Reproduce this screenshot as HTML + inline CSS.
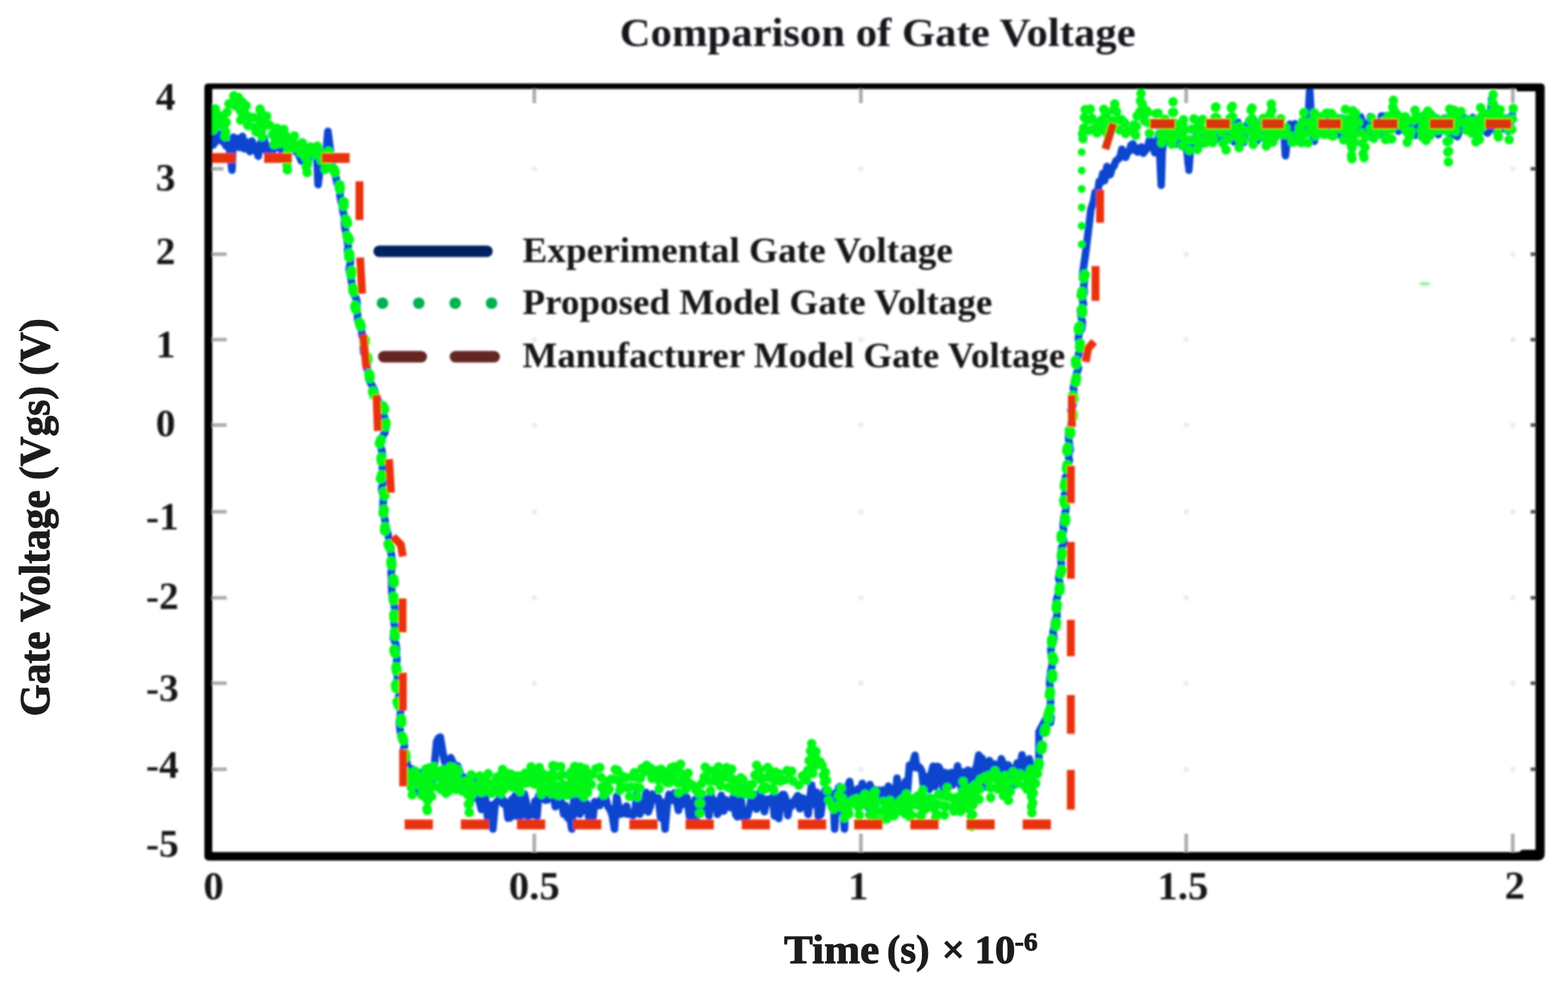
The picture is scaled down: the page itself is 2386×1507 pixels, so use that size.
<!DOCTYPE html>
<html lang="en"><head><meta charset="utf-8"><title>Comparison of Gate Voltage</title>
<style>html,body{margin:0;padding:0;background:#fff}svg{display:block}</style></head>
<body>
<svg width="2386" height="1507" viewBox="0 0 2386 1507">
<rect width="2386" height="1507" fill="#fff"/>
<defs><clipPath id="pc"><rect x="322" y="135" width="2016" height="1162"/></clipPath></defs>
<defs><filter id="bl" x="-2%" y="-2%" width="104%" height="104%"><feGaussianBlur stdDeviation="1.4"/></filter><filter id="bp" x="-2%" y="-2%" width="104%" height="104%"><feGaussianBlur stdDeviation="1.7"/></filter></defs>
<g id="plot" filter="url(#bp)">
<g stroke="#acacac" stroke-width="5.5" fill="none">
<line x1="813" y1="135" x2="813" y2="157"/>
<line x1="813" y1="1269" x2="813" y2="1297"/>
<line x1="1310" y1="135" x2="1310" y2="157"/>
<line x1="1310" y1="1269" x2="1310" y2="1297"/>
<line x1="1805" y1="135" x2="1805" y2="157"/>
<line x1="1805" y1="1269" x2="1805" y2="1297"/>
<line x1="2302" y1="1269" x2="2302" y2="1297"/>
<line x1="2302" y1="135" x2="2302" y2="157"/>
<line x1="2329" y1="257" x2="2339" y2="257" stroke="#555"/>
<line x1="323" y1="387" x2="345" y2="387"/>
<line x1="2329" y1="387" x2="2339" y2="387" stroke="#555"/>
<line x1="323" y1="517" x2="345" y2="517"/>
<line x1="2329" y1="517" x2="2339" y2="517" stroke="#555"/>
<line x1="323" y1="647" x2="345" y2="647"/>
<line x1="2329" y1="647" x2="2339" y2="647" stroke="#555"/>
<line x1="323" y1="779" x2="345" y2="779"/>
<line x1="2329" y1="779" x2="2339" y2="779" stroke="#555"/>
<line x1="323" y1="910" x2="345" y2="910"/>
<line x1="2329" y1="910" x2="2339" y2="910" stroke="#555"/>
<line x1="323" y1="1040" x2="345" y2="1040"/>
<line x1="2329" y1="1040" x2="2339" y2="1040" stroke="#555"/>
<line x1="323" y1="1171" x2="345" y2="1171"/>
<line x1="2329" y1="1171" x2="2339" y2="1171" stroke="#555"/>
<line x1="323" y1="257" x2="340" y2="257"/>
</g>
<g fill="#ececec">
<circle cx="813" cy="257" r="4"/>
<circle cx="813" cy="387" r="4"/>
<circle cx="813" cy="517" r="4"/>
<circle cx="813" cy="647" r="4"/>
<circle cx="813" cy="779" r="4"/>
<circle cx="813" cy="910" r="4"/>
<circle cx="813" cy="1040" r="4"/>
<circle cx="813" cy="1171" r="4"/>
<circle cx="1310" cy="257" r="4"/>
<circle cx="1310" cy="387" r="4"/>
<circle cx="1310" cy="517" r="4"/>
<circle cx="1310" cy="647" r="4"/>
<circle cx="1310" cy="779" r="4"/>
<circle cx="1310" cy="910" r="4"/>
<circle cx="1310" cy="1040" r="4"/>
<circle cx="1310" cy="1171" r="4"/>
<circle cx="1805" cy="257" r="4"/>
<circle cx="1805" cy="387" r="4"/>
<circle cx="1805" cy="517" r="4"/>
<circle cx="1805" cy="647" r="4"/>
<circle cx="1805" cy="779" r="4"/>
<circle cx="1805" cy="910" r="4"/>
<circle cx="1805" cy="1040" r="4"/>
<circle cx="1805" cy="1171" r="4"/>
<circle cx="2302" cy="257" r="4"/>
<circle cx="2302" cy="387" r="4"/>
<circle cx="2302" cy="517" r="4"/>
<circle cx="2302" cy="647" r="4"/>
<circle cx="2302" cy="779" r="4"/>
<circle cx="2302" cy="910" r="4"/>
<circle cx="2302" cy="1040" r="4"/>
<circle cx="2302" cy="1171" r="4"/>
</g>
<ellipse cx="2168" cy="432" rx="9" ry="3" fill="#9af59a"/>
<g clip-path="url(#pc)">
<polyline points="322.0,210.7 324.4,220.8 326.6,217.5 329.4,203.5 332.4,203.2 335.3,204.5 337.5,215.3 341.1,206.7 343.6,222.0 347.4,220.9 350.2,233.2 353.0,259.0 355.0,208.7 357.3,213.9 360.9,210.4 364.1,224.5 366.8,222.0 369.0,207.6 371.5,226.5 374.4,215.8 377.5,220.3 380.2,230.8 383.5,214.6 386.7,223.4 390.3,229.9 393.0,237.7 395.3,221.1 398.7,213.4 401.7,209.5 405.0,229.9 408.2,232.0 410.8,225.5 414.0,220.8 416.9,227.4 420.7,215.8 424.0,206.0 427.4,226.3 431.3,234.7 433.9,223.7 437.2,215.4 440.1,222.1 442.4,219.3 445.9,222.1 448.4,230.4 452.1,221.8 455.0,236.5 458.7,245.3 462.4,229.8 465.2,232.8 468.9,251.5 471.3,228.5 473.8,230.8 476.0,230.0 479.3,225.0 482.2,236.5 484.0,281.0 488.7,242.2 491.9,246.9 494.1,253.2 499.0,200.0 506.0,254.0 508.5,262.5 511.5,271.0 513.0,279.5 518.7,288.0 517.2,296.4 518.6,304.8 520.7,313.2 521.9,321.6 524.2,330.0 524.0,338.8 525.0,347.5 527.0,356.2 528.0,365.0 529.9,374.0 528.8,383.0 533.7,392.0 533.0,401.0 531.2,410.0 533.0,418.5 534.7,427.0 536.1,435.5 536.1,444.0 541.2,452.5 543.5,461.0 542.3,469.5 543.9,478.0 544.3,486.3 546.7,494.7 550.2,503.0 551.0,511.4 555.0,519.8 552.9,528.2 553.4,536.6 559.3,545.0 558.7,553.0 558.4,561.0 562.0,569.0 561.0,577.0 565.1,585.0 569.9,594.0 571.8,603.0 576.0,610.3 578.8,617.7 584.3,625.0 584.0,633.3 587.7,641.7 587.2,650.0 585.7,658.3 580.8,666.7 577.6,675.0 580.9,685.0 582.1,695.0 581.8,705.0 582.0,715.0 582.6,725.0 582.7,735.0 580.6,745.0 583.1,754.2 583.3,763.5 582.6,772.8 583.6,782.0 585.9,792.0 586.8,802.0 590.0,812.0 592.3,822.0 591.1,831.3 594.9,840.7 596.4,850.0 597.3,860.0 595.3,870.0 595.6,880.0 596.0,889.1 596.2,898.2 596.5,907.3 599.0,916.4 600.7,925.6 600.7,934.7 599.2,943.8 600.4,952.9 601.5,962.0 598.4,970.5 601.8,979.0 603.5,987.5 603.4,996.0 603.8,1004.5 602.9,1013.0 601.9,1021.5 605.4,1030.0 603.7,1038.6 606.6,1047.1 608.1,1055.7 605.8,1064.3 606.4,1072.9 609.7,1081.4 609.1,1090.0 607.5,1099.2 608.5,1108.3 609.8,1117.5 614.7,1126.7 615.4,1135.8 613.2,1145.0 617.9,1155.0 619.9,1165.0 619.5,1175.0 619.3,1185.0 624.0,1191.9 626.3,1170.2 630.2,1195.0 633.2,1205.9 636.1,1202.9 639.7,1175.9 642.3,1178.8 644.8,1190.1 647.4,1183.0 649.7,1202.3 652.4,1183.7 655.6,1198.9 658.4,1188.4 661.4,1161.2 664.5,1128.8 667.4,1123.3 670.0,1122.0 671.9,1133.4 675.3,1153.7 678.0,1165.6 681.1,1175.3 683.4,1165.5 685.9,1153.2 689.4,1161.2 692.5,1171.4 696.3,1165.7 699.5,1174.2 702.5,1185.8 705.4,1183.1 708.4,1203.1 711.7,1204.7 715.5,1184.8 718.6,1216.0 722.2,1188.4 724.6,1203.6 726.8,1198.4 729.0,1218.5 732.5,1232.2 734.9,1228.0 738.2,1209.4 741.9,1244.7 744.4,1244.1 747.2,1225.5 750.0,1262.0 753.5,1223.3 756.5,1219.6 758.9,1218.7 762.3,1206.8 765.4,1223.6 767.6,1219.3 770.8,1226.5 773.0,1245.4 776.5,1244.9 778.8,1216.6 781.0,1237.2 783.6,1211.2 786.4,1242.5 790.0,1216.3 792.4,1242.8 795.5,1234.0 797.8,1208.3 801.1,1223.0 803.3,1243.5 806.6,1238.1 808.8,1240.2 811.1,1240.5 814.0,1219.6 817.1,1243.1 819.6,1211.2 822.7,1215.5 825.0,1212.5 827.2,1214.1 829.8,1218.2 833.3,1217.6 836.3,1213.1 839.0,1206.7 841.6,1206.6 845.0,1228.0 847.4,1225.0 851.2,1210.3 854.8,1223.3 857.8,1239.4 860.6,1226.3 863.9,1245.3 866.7,1239.3 870.0,1262.0 872.9,1219.9 875.1,1211.2 877.3,1235.6 879.8,1212.5 882.1,1239.7 885.8,1232.8 888.4,1215.7 891.0,1224.4 893.4,1223.8 896.0,1244.5 899.8,1227.9 902.3,1244.6 905.0,1220.3 907.1,1221.3 910.1,1226.1 912.5,1226.2 914.6,1216.6 916.9,1222.0 919.1,1206.9 921.7,1215.3 924.9,1227.2 928.3,1232.3 931.7,1241.2 935.0,1262.0 938.4,1212.0 941.8,1231.7 944.0,1239.4 947.7,1231.1 951.1,1238.5 953.4,1227.0 956.4,1239.4 960.0,1239.1 963.1,1241.7 966.5,1233.7 969.0,1207.2 971.3,1220.4 973.6,1239.4 976.7,1231.1 980.0,1233.2 982.9,1206.1 986.5,1235.9 989.5,1227.4 992.8,1208.6 996.2,1216.1 998.4,1216.6 1001.8,1214.2 1005.3,1245.0 1008.3,1221.3 1012.0,1262.0 1014.7,1230.7 1018.0,1209.1 1020.3,1216.2 1023.8,1218.2 1026.9,1206.5 1029.1,1216.8 1032.4,1233.7 1035.7,1217.6 1038.7,1224.6 1041.7,1210.7 1045.4,1214.0 1049.3,1243.5 1051.4,1224.4 1055.0,1244.7 1057.9,1216.7 1060.3,1243.8 1062.8,1229.3 1065.2,1227.0 1069.0,1211.3 1072.6,1226.3 1076.3,1234.1 1078.8,1241.9 1081.8,1207.0 1083.9,1225.7 1086.8,1218.1 1089.1,1219.8 1091.8,1239.6 1093.9,1236.0 1097.5,1210.8 1101.3,1234.5 1105.0,1217.6 1107.8,1221.7 1111.7,1229.6 1114.4,1223.1 1117.0,1207.9 1119.3,1239.4 1121.9,1243.4 1124.5,1216.6 1127.5,1213.6 1130.3,1244.2 1133.9,1238.5 1137.2,1242.5 1141.0,1228.0 1144.4,1208.0 1147.8,1224.0 1151.2,1231.8 1153.9,1208.0 1157.6,1211.1 1160.6,1219.7 1163.2,1235.6 1167.1,1216.4 1170.4,1218.0 1173.5,1221.8 1175.9,1212.5 1178.3,1242.2 1181.3,1214.8 1185.1,1245.9 1188.0,1211.6 1190.4,1209.6 1193.1,1209.6 1195.7,1216.3 1198.8,1241.5 1202.2,1222.5 1205.1,1227.0 1207.9,1219.5 1210.1,1217.1 1213.9,1211.0 1216.9,1231.2 1220.6,1214.6 1223.2,1215.9 1226.0,1223.8 1229.8,1239.9 1233.5,1206.9 1235.0,1195.0 1239.3,1224.9 1242.5,1206.0 1245.3,1243.1 1248.9,1240.2 1252.7,1211.2 1255.0,1203.4 1258.1,1219.2 1261.9,1214.1 1265.1,1216.0 1268.1,1207.9 1270.0,1262.0 1272.7,1223.2 1276.0,1199.0 1278.3,1197.2 1281.6,1215.5 1285.0,1262.0 1286.9,1211.6 1289.7,1197.6 1292.9,1189.5 1295.5,1207.8 1299.4,1215.7 1303.1,1209.4 1305.6,1200.6 1309.4,1219.4 1312.1,1192.4 1315.1,1218.9 1317.9,1202.5 1321.2,1229.7 1323.7,1194.3 1326.4,1210.1 1329.8,1201.6 1333.3,1223.7 1336.3,1202.7 1340.2,1207.4 1343.7,1202.4 1346.2,1222.3 1348.9,1228.6 1351.9,1196.6 1354.4,1204.5 1357.7,1224.1 1360.0,1200.7 1362.5,1222.7 1364.9,1184.6 1367.1,1197.2 1370.8,1215.0 1374.2,1217.8 1378.0,1189.2 1380.4,1211.2 1383.9,1164.7 1387.2,1168.7 1389.9,1158.5 1392.3,1149.8 1394.9,1168.9 1398.8,1167.5 1402.6,1173.3 1405.3,1197.9 1408.9,1182.3 1411.1,1183.9 1413.9,1201.8 1416.3,1179.6 1420.0,1166.2 1422.9,1197.5 1426.4,1166.6 1428.5,1167.5 1432.3,1175.3 1435.7,1200.9 1438.4,1175.9 1442.3,1189.7 1444.8,1193.7 1447.5,1176.0 1449.6,1195.2 1453.3,1190.4 1457.1,1166.0 1459.7,1184.0 1463.5,1203.2 1466.3,1175.0 1469.2,1184.7 1472.9,1172.3 1476.5,1194.5 1480.1,1195.8 1483.2,1171.6 1485.9,1167.6 1489.4,1149.3 1491.9,1177.9 1494.4,1154.2 1496.6,1177.0 1499.3,1198.1 1503.0,1196.5 1505.5,1157.8 1507.8,1172.1 1511.2,1166.7 1513.7,1163.0 1516.9,1173.1 1520.4,1182.1 1523.7,1155.1 1527.3,1164.1 1530.4,1169.2 1533.8,1164.3 1536.4,1167.6 1538.8,1194.6 1541.9,1171.1 1544.7,1195.0 1547.7,1161.5 1551.3,1174.8 1555.2,1149.1 1558.1,1178.4 1561.7,1183.0 1563.9,1158.7 1566.2,1155.0 1570.1,1171.6 1573.8,1164.0 1577.5,1167.9 1581.0,1155.0 1581.0,1114.0 1595.0,1088.0 1598.4,1100.0 1599.5,1091.4 1595.6,1082.9 1598.3,1074.3 1598.7,1065.7 1597.0,1057.1 1598.1,1048.6 1597.2,1040.0 1597.9,1031.4 1598.6,1022.9 1600.8,1014.3 1601.5,1005.7 1599.7,997.1 1599.1,988.6 1601.1,980.0 1603.9,971.7 1602.4,963.3 1604.1,955.0 1604.5,946.7 1608.5,938.3 1608.2,930.0 1606.6,921.7 1607.7,913.3 1610.0,905.0 1611.6,896.7 1612.9,888.3 1611.0,880.0 1612.0,870.8 1615.3,861.7 1614.5,852.5 1614.6,843.3 1615.4,834.2 1619.3,825.0 1616.6,815.8 1618.3,806.7 1617.8,797.5 1618.6,788.3 1621.3,779.2 1622.5,770.0 1620.0,761.4 1619.9,752.9 1623.3,744.3 1621.4,735.7 1621.1,727.1 1626.3,718.6 1624.6,710.0 1627.2,701.4 1625.7,692.9 1628.6,684.3 1627.1,675.7 1626.2,667.1 1626.0,658.6 1629.3,650.0 1630.5,641.7 1632.7,633.3 1629.4,625.0 1632.9,616.7 1632.5,608.3 1634.0,600.0 1633.5,590.0 1635.4,580.0 1637.9,570.0 1641.1,560.0 1637.8,551.4 1640.4,542.9 1642.7,534.3 1644.2,525.7 1641.1,517.1 1641.4,508.6 1646.2,500.0 1647.0,490.8 1645.2,481.7 1643.8,472.5 1648.8,463.3 1646.8,454.2 1650.0,445.0 1648.9,436.0 1650.3,427.0 1647.3,418.0 1652.0,385.0 1656.0,352.0 1660.0,319.0 1664.0,306.9 1666.5,292.7 1670.1,295.7 1672.6,276.1 1675.4,277.7 1678.2,264.0 1680.7,275.0 1684.4,253.5 1687.5,266.4 1689.7,265.4 1692.0,256.5 1695.1,252.9 1697.8,245.5 1700.9,242.6 1704.2,240.0 1707.1,227.2 1710.3,235.3 1712.8,239.5 1716.3,230.7 1718.7,230.1 1721.0,220.9 1723.9,218.9 1726.8,227.8 1729.0,230.0 1731.2,231.4 1734.7,224.7 1736.9,223.7 1739.7,233.3 1742.1,230.1 1745.9,225.6 1749.5,212.1 1753.4,218.6 1757.2,232.4 1759.6,227.7 1763.4,202.6 1767.0,282.0 1768.5,230.1 1771.0,215.0 1773.4,215.9 1777.2,205.4 1779.8,215.1 1782.4,198.7 1784.9,202.6 1788.7,219.6 1792.4,201.7 1795.9,199.4 1798.9,216.6 1801.7,224.2 1804.8,213.8 1809.0,259.0 1812.4,214.4 1815.2,219.8 1817.7,226.1 1820.9,204.4 1824.4,206.8 1826.8,216.8 1829.0,219.2 1831.5,212.8 1835.4,210.6 1838.7,201.0 1840.8,191.3 1843.2,210.8 1846.0,207.0 1849.8,193.7 1852.3,211.2 1854.4,188.8 1857.1,192.1 1859.9,195.8 1863.0,207.9 1865.5,208.9 1868.5,191.9 1872.2,195.3 1874.6,190.0 1877.9,216.0 1881.4,199.7 1883.9,186.2 1887.2,204.6 1889.9,207.2 1892.8,216.8 1896.3,193.0 1900.0,185.7 1903.0,197.7 1905.6,185.6 1909.1,183.7 1912.2,215.0 1914.5,189.6 1917.7,199.9 1921.0,210.1 1923.4,192.9 1926.0,183.9 1929.7,208.6 1933.1,182.0 1936.7,206.9 1939.7,206.6 1942.6,188.9 1944.9,189.0 1947.0,192.4 1950.5,204.4 1954.1,204.8 1956.0,237.0 1959.6,207.1 1962.6,189.1 1965.9,212.8 1968.4,209.7 1970.5,188.5 1973.0,204.8 1976.8,204.7 1979.5,209.1 1982.2,187.1 1985.9,200.2 1989.3,201.2 1993.0,138.0 1996.8,201.9 2000.0,215.0 2003.8,197.3 2006.5,185.1 2009.7,180.5 2013.4,182.7 2015.6,181.4 2019.3,189.4 2021.7,178.6 2023.9,201.2 2027.1,201.3 2030.5,179.7 2033.7,189.8 2037.3,205.3 2041.0,179.6 2044.6,208.4 2048.4,180.8 2050.9,181.0 2053.1,205.9 2056.6,198.6 2060.2,198.5 2062.8,180.4 2065.1,202.7 2067.6,187.7 2070.4,177.5 2073.0,186.4 2076.4,189.3 2079.1,209.5 2082.1,205.6 2085.3,177.6 2088.1,191.4 2091.6,188.3 2095.0,194.7 2097.5,205.7 2099.7,204.2 2102.1,176.4 2104.6,202.2 2108.5,176.4 2111.5,192.9 2115.0,182.4 2118.0,187.9 2121.6,184.9 2125.4,185.6 2127.9,199.7 2130.9,179.6 2134.1,178.5 2137.6,199.4 2141.1,197.0 2143.9,189.3 2146.7,205.9 2148.9,205.7 2151.1,182.5 2153.7,206.1 2156.7,188.3 2160.4,183.3 2163.3,193.4 2166.7,200.9 2170.0,187.0 2172.7,180.4 2176.3,197.6 2179.7,180.8 2182.6,201.3 2185.8,179.2 2188.7,205.0 2191.2,181.4 2193.9,198.7 2197.5,180.0 2199.9,183.1 2202.6,192.4 2205.0,185.8 2207.4,207.7 2210.8,178.0 2214.6,177.9 2217.4,207.9 2221.0,199.3 2223.9,181.0 2227.1,177.9 2229.6,187.4 2231.7,187.7 2235.3,197.7 2238.3,195.6 2241.2,178.8 2244.4,187.7 2247.8,204.8 2250.7,193.4 2254.1,188.1 2256.6,198.3 2260.3,200.0 2263.7,202.6 2267.0,195.4 2270.0,150.0 2273.2,176.8 2276.0,200.0 2279.4,194.8 2281.9,187.7 2284.9,194.4 2287.7,196.2 2291.5,179.4 2294.8,199.6 2297.6,189.7 2301.4,174.3" fill="none" stroke="#0a45cf" stroke-width="11.5" stroke-linejoin="round" stroke-linecap="round"/>
<g fill="none" stroke="#05f713" stroke-linejoin="round">
<polyline points="322.0,167.7 325.0,204.4 327.7,163.4 330.0,165.0 333.3,181.6 336.1,196.1 338.8,175.3 343.0,212.0 345.0,172.8 348.0,157.1 351.3,165.1 353.2,159.4 355.7,144.5 358.2,161.7 361.1,155.7 364.0,143.0 366.3,184.2 368.9,153.1 372.0,165.6 374.1,155.9 377.2,192.6 380.0,180.1 382.7,172.1 386.0,180.9 388.8,204.7 391.9,189.4 394.2,194.4 396.0,160.0 398.6,211.1 400.8,189.5 403.0,193.0 405.1,173.7 408.1,188.5 410.3,190.6 412.9,198.0 415.7,210.5 418.1,224.6 421.2,189.7 424.3,221.8 427.4,195.7 430.5,215.0 432.3,193.6 435.6,218.4 437.0,262.0 439.9,205.2 442.9,210.6 445.0,231.7 448.0,206.6 451.2,223.9 454.3,227.5 457.5,233.3 460.6,213.5 463.5,226.9 467.0,266.0 469.7,231.0 471.9,220.7 474.0,231.1 475.9,231.2 477.9,233.2 480.5,236.3 483.7,218.8 486.8,237.1 489.5,245.7 492.6,237.6 495.1,260.7 497.1,250.6 499.9,230.9" stroke-width="14.5" stroke-dasharray="0.1 15" stroke-linecap="round"/>
<polyline points="499.9,230.9 506.0,254.0 511.1,265.3 516.6,276.7 517.0,288.0 523.2,302.0 522.7,316.0 524.9,330.0 529.1,341.7 525.5,353.3 531.3,365.0 531.8,380.0 531.0,395.0 535.2,410.0 533.9,421.3 536.2,432.7 538.2,444.0 541.6,455.3 540.3,466.7 543.6,478.0 547.0,490.5 551.3,503.0 555.0,517.0 553.8,531.0 559.0,545.0 559.1,558.3 562.4,571.7 563.6,585.0 570.0,603.0 580.3,614.0 585.9,625.0 587.8,637.5 586.0,650.0 581.9,662.5 577.8,675.0 580.0,690.0 580.8,705.0 582.4,718.3 578.6,731.7 583.3,745.0 585.6,757.3 584.9,769.7 583.3,782.0 586.1,795.3 585.7,808.7 588.1,822.0 594.5,836.0 594.7,850.0 596.4,865.0 598.7,880.0 600.0,893.7 598.7,907.3 599.2,921.0 599.8,934.7 600.7,948.3 600.6,962.0 601.9,975.6 599.9,989.2 603.4,1002.8 602.9,1016.4 605.6,1030.0 602.4,1042.0 603.7,1054.0 603.6,1066.0 608.8,1078.0 610.5,1090.0 610.7,1103.8 610.7,1117.5 615.2,1131.2 616.7,1145.0 617.0,1158.3 616.9,1171.7 618.8,1185.0" stroke-width="15.5" stroke-dasharray="6 21" stroke-linecap="round"/>
<polyline points="622.0,1184.9 624.3,1185.4 627.1,1211.5 629.0,1192.5 630.9,1169.2 634.0,1192.9 637.3,1186.2 639.1,1183.1 641.8,1211.7 645.2,1187.6 647.7,1168.2 650.0,1240.0 652.5,1163.7 654.4,1198.4 656.4,1213.1 658.3,1208.1 660.4,1163.8 663.3,1175.5 666.3,1172.6 668.2,1203.1 671.1,1207.3 674.1,1167.2 676.9,1199.7 679.4,1211.3 681.6,1212.9 684.5,1163.4 686.4,1196.6 689.5,1166.9 691.8,1200.7 693.9,1207.5 696.5,1165.9 698.8,1192.6 701.3,1197.9 703.4,1204.2 705.8,1196.3 708.6,1184.4 711.0,1203.6 714.0,1238.0 717.0,1177.9 718.9,1213.3 721.8,1205.7 724.2,1194.2 727.5,1205.9 730.3,1178.7 732.8,1208.8 735.2,1198.2 737.9,1209.2 741.0,1177.3 742.8,1176.3 745.3,1193.1 748.4,1208.7 750.3,1205.9 753.4,1207.7 756.1,1176.8 759.2,1204.5 762.1,1210.1 764.5,1167.0 767.2,1204.0 769.3,1201.5 772.6,1174.7 775.3,1197.7 777.9,1173.2 780.1,1201.5 783.2,1186.4 785.1,1204.4 788.1,1174.6 790.9,1209.1 794.1,1189.6 796.6,1193.1 798.7,1172.4 800.8,1198.9 803.2,1191.8 805.7,1189.3 807.7,1164.7 811.1,1181.8 813.1,1195.3 816.1,1170.5 818.9,1180.3 821.5,1163.4 823.4,1213.8 826.6,1187.6 829.3,1175.9 832.3,1184.5 835.6,1202.2 838.7,1212.4 840.9,1164.2 843.1,1171.7 845.0,1164.9 847.7,1207.5 850.2,1211.5 853.5,1165.6 856.2,1182.9 858.2,1212.1 860.4,1191.6 863.3,1211.9 866.1,1182.6 868.7,1170.5 872.0,1213.7 874.1,1164.2 876.4,1180.5 879.6,1209.2 882.7,1164.6 885.8,1199.0 888.6,1213.4 890.5,1169.6 893.5,1211.0 896.4,1177.6 899.1,1201.5 901.1,1178.9 903.3,1168.5 905.9,1170.8 908.1,1169.5 911.0,1162.7 913.9,1172.2 915.8,1210.3 917.9,1210.6 921.1,1208.2 923.2,1185.3 925.1,1210.3 928.3,1194.7 930.8,1179.6 933.9,1186.8 936.7,1169.4 938.9,1164.9 941.8,1190.7 943.8,1207.2 946.1,1183.3 948.1,1176.0 951.3,1179.3 953.3,1187.4 955.7,1208.9 957.7,1212.8 959.6,1208.4 962.4,1172.9 965.0,1176.8 967.2,1172.3 969.6,1213.4 973.0,1209.9 975.0,1176.9 978.2,1164.8 981.1,1177.1 984.5,1162.6 987.5,1179.5 989.6,1161.9 992.7,1189.2 994.8,1184.4 998.1,1173.1 1000.8,1168.9 1002.9,1201.8 1005.8,1172.0 1007.7,1166.3 1010.5,1187.5 1012.8,1172.4 1015.5,1198.5 1018.6,1192.0 1020.8,1165.1 1023.7,1182.9 1026.7,1164.5 1029.8,1179.1 1032.9,1206.6 1035.5,1162.4 1038.7,1186.4 1041.9,1175.5 1044.0,1204.9 1046.4,1170.1 1048.8,1192.5 1050.6,1188.6 1053.1,1188.4 1055.1,1198.7 1058.2,1206.6 1060.6,1198.5 1063.0,1200.6 1065.0,1238.0 1068.2,1187.3 1070.8,1189.1 1073.5,1162.6 1076.8,1173.1 1078.9,1166.8 1081.1,1204.0 1083.0,1166.5 1085.9,1171.6 1087.7,1192.6 1090.5,1188.6 1093.4,1166.8 1096.6,1198.7 1098.5,1167.8 1101.0,1187.5 1103.3,1167.8 1105.8,1168.5 1108.5,1206.2 1110.5,1191.2 1113.5,1169.9 1116.6,1210.1 1119.1,1183.2 1122.2,1188.7 1124.6,1210.3 1127.7,1178.9 1129.9,1178.7 1132.4,1212.3 1135.4,1208.8 1138.5,1205.4 1140.4,1188.2 1143.7,1209.9 1145.9,1183.2 1148.8,1180.2 1151.4,1164.9 1153.9,1187.5 1155.8,1168.5 1159.1,1201.6 1162.4,1194.1 1165.4,1207.2 1168.6,1163.0 1171.5,1175.0 1174.3,1175.4 1177.0,1209.2 1179.8,1174.2 1182.4,1183.7 1185.7,1176.1 1188.0,1194.8 1190.0,1192.0 1193.4,1187.8 1195.6,1185.4 1198.2,1168.8 1200.3,1167.9 1202.5,1182.2 1204.8,1173.7 1206.8,1189.5 1209.9,1192.8 1212.6,1194.9 1214.7,1198.0 1217.3,1189.5 1220.1,1185.4 1222.4,1173.6 1224.5,1187.7 1226.9,1191.5 1228.8,1175.2 1231.9,1152.6 1235.0,1130.0 1236.9,1179.1 1239.2,1172.5 1241.2,1140.0 1244.4,1165.7 1246.3,1165.7 1249.0,1155.0 1250.8,1162.4 1254.2,1193.0 1256.2,1174.5 1258.6,1197.0 1261.4,1219.6 1264.5,1217.4 1267.4,1236.7 1270.4,1222.7 1273.5,1234.8 1276.7,1204.6 1279.9,1198.2 1282.9,1228.5 1285.5,1248.1 1288.2,1219.7 1291.3,1243.4 1294.0,1217.7 1296.6,1221.8 1299.5,1213.2 1302.0,1226.9 1304.4,1214.7 1307.4,1242.2 1310.0,1221.1 1312.1,1213.8 1314.2,1227.9 1316.9,1202.6 1320.2,1214.8 1323.3,1241.6 1326.6,1208.6 1329.1,1245.3 1330.9,1200.5 1333.6,1223.9 1336.9,1238.2 1339.5,1249.9 1342.2,1224.9 1345.1,1218.3 1347.4,1228.9 1349.8,1247.3 1352.7,1225.3 1354.7,1217.5 1357.1,1227.2 1359.8,1243.8 1363.1,1223.3 1365.6,1230.5 1369.0,1215.9 1371.7,1240.4 1373.8,1214.5 1377.1,1241.0 1379.7,1203.7 1382.9,1233.9 1386.0,1249.5 1389.2,1219.9 1391.3,1213.1 1393.9,1224.3 1396.0,1207.5 1398.8,1229.4 1401.2,1249.7 1404.0,1200.2 1406.5,1239.0 1408.8,1233.9 1410.6,1213.8 1413.7,1228.5 1416.6,1208.2 1419.2,1226.8 1421.4,1231.6 1424.1,1249.8 1426.8,1219.4 1428.8,1206.2 1431.8,1203.5 1433.8,1206.9 1436.4,1240.8 1439.2,1239.9 1441.1,1198.2 1444.1,1213.0 1447.1,1213.3 1449.2,1207.9 1451.1,1240.2 1453.9,1210.1 1456.4,1211.0 1458.3,1236.4 1461.0,1238.8 1463.5,1220.1 1465.7,1189.1 1469.0,1229.9 1471.3,1231.2 1474.4,1198.9 1477.2,1231.8 1479.0,1264.0 1482.0,1200.1 1484.9,1190.1 1487.2,1223.1 1489.8,1217.6 1492.0,1184.5 1494.4,1184.1 1497.7,1188.1 1500.4,1177.9 1503.0,1191.7 1505.5,1174.9 1507.5,1214.2 1509.9,1183.7 1512.0,1185.5 1514.2,1172.4 1517.0,1188.0 1519.1,1206.8 1521.1,1183.9 1524.2,1176.2 1526.7,1212.8 1529.8,1177.3 1532.2,1206.4 1534.6,1218.4 1536.7,1217.8 1539.3,1179.9 1541.8,1174.6 1544.8,1181.1 1548.0,1197.8 1550.4,1179.8 1553.1,1177.7 1556.3,1172.8 1558.9,1194.3 1561.2,1206.0 1563.6,1199.8 1566.3,1181.5 1568.7,1169.6 1570.0,1240.0 1573.2,1199.1 1575.2,1193.7 1577.5,1190.3 1579.8,1167.4" stroke-width="14.5" stroke-dasharray="0.1 15" stroke-linecap="round"/>
<polyline points="1579.8,1167.4 1595.0,1088.0 1595.4,1100.0 1595.2,1088.0 1599.1,1076.0 1596.9,1064.0 1598.0,1052.0 1601.5,1040.0 1601.2,1028.0 1602.5,1016.0 1603.0,1004.0 1599.2,992.0 1600.7,980.0 1600.7,967.5 1606.1,955.0 1607.5,942.5 1607.1,930.0 1608.7,917.5 1611.5,905.0 1612.9,892.5 1611.5,880.0 1616.1,866.2 1614.1,852.5 1616.8,838.8 1615.1,825.0 1615.4,811.2 1621.0,797.5 1620.7,783.8 1621.3,770.0 1618.2,758.0 1619.2,746.0 1621.0,734.0 1622.2,722.0 1623.8,710.0 1625.1,698.0 1623.8,686.0 1626.3,674.0 1629.0,662.0 1627.1,650.0 1632.3,637.5 1631.9,625.0 1634.0,612.5 1632.5,600.0 1635.3,586.7 1638.4,573.3 1638.1,560.0 1637.0,548.0 1643.0,536.0 1643.7,524.0 1641.7,512.0 1641.3,500.0 1647.1,486.2 1646.6,472.5 1644.3,458.8 1646.5,445.0 1646.2,431.5 1650.7,418.0 1645.3,400.0" stroke-width="15.5" stroke-dasharray="6 21" stroke-linecap="round"/>
<polyline points="1646.0,372.0 1646.0,200.0" stroke-width="12" stroke-dasharray="0.1 28" stroke-linecap="round"/>
<polyline points="1648.0,211.2 1651.0,164.9 1653.9,182.1 1656.9,206.5 1659.1,165.1 1662.4,183.9 1665.7,198.9 1668.7,206.7 1671.5,185.6 1673.4,199.4 1675.9,188.9 1679.1,167.5 1682.1,162.8 1685.1,205.5 1687.3,191.0 1690.6,196.1 1693.3,174.4 1696.0,155.0 1697.7,171.8 1700.0,168.2 1702.9,198.1 1705.1,174.1 1707.7,185.5 1711.0,180.3 1713.3,210.2 1715.3,192.2 1717.7,206.3 1720.3,203.3 1722.4,198.1 1725.2,186.6 1728.2,207.3 1730.2,177.0 1732.6,172.4 1734.5,176.6 1736.0,140.0 1739.1,167.2 1741.5,187.2 1743.8,170.4 1745.8,161.6 1749.1,203.0 1751.1,201.5 1754.4,193.9 1756.4,190.3 1758.9,174.3 1761.6,164.9 1764.8,201.5 1767.6,218.7 1770.5,181.2 1772.7,175.6 1774.6,211.7 1777.7,185.9 1779.8,205.7 1782.9,222.8 1785.0,155.0 1788.1,214.0 1790.5,183.5 1793.6,192.0 1796.0,205.7 1798.4,222.1 1800.6,178.3 1803.3,211.2 1806.4,215.5 1809.6,228.9 1812.2,204.0 1814.2,192.8 1817.0,180.5 1819.9,185.2 1822.4,230.3 1824.3,178.2 1826.8,186.7 1829.8,176.2 1832.9,223.9 1836.0,199.8 1838.2,213.1 1840.9,199.6 1843.2,200.6 1846.1,222.3 1850.0,155.0 1851.6,200.8 1854.3,195.5 1856.4,180.8 1858.7,201.8 1862.1,226.9 1865.2,230.6 1868.5,210.7 1871.6,179.4 1875.0,155.0 1876.8,208.0 1880.1,202.9 1882.9,192.8 1885.3,225.6 1887.1,186.6 1890.0,201.1 1892.0,213.0 1894.4,208.5 1896.8,205.7 1899.5,198.2 1901.5,186.1 1905.0,158.0 1906.7,224.3 1909.0,181.3 1911.6,190.1 1914.2,207.0 1916.4,208.1 1918.4,204.7 1921.1,180.5 1923.6,180.1 1926.1,224.4 1928.7,216.0 1931.7,182.4 1935.0,155.0 1937.1,222.5 1939.5,185.6 1942.8,207.5 1945.9,183.7 1948.9,179.2 1951.1,196.6 1952.9,208.6 1955.1,191.6 1958.0,197.9 1961.2,208.1 1964.4,204.1 1967.6,220.5 1969.7,213.0 1972.1,213.5 1975.0,216.2 1977.0,190.4 1979.9,221.9 1982.9,170.5 1985.7,173.0 1988.3,211.8 1990.3,218.1 1993.2,179.9 1995.3,190.1 1998.4,196.9 2000.4,165.2 2002.4,208.8 2004.5,195.0 2006.8,202.4 2009.2,172.0 2012.4,194.1 2015.3,209.2 2018.6,164.6 2021.0,172.3 2023.6,212.7 2026.6,165.8 2028.7,209.6 2031.6,185.8 2034.2,172.6 2037.3,185.8 2040.5,197.9 2042.4,182.2 2044.6,213.8 2047.3,166.1 2049.4,183.9 2052.0,196.0 2054.4,183.4 2057.0,247.0 2058.6,164.8 2061.1,218.8 2063.0,171.8 2065.9,178.8 2068.1,191.6 2070.3,195.4 2073.0,217.1 2075.0,245.0 2079.0,206.6 2082.2,206.8 2085.0,199.0 2087.4,179.2 2090.5,212.3 2093.8,201.5 2096.1,206.1 2099.0,191.8 2101.8,183.0 2104.5,186.0 2106.4,182.2 2108.8,218.6 2111.3,183.8 2113.5,176.4 2115.9,170.8 2117.7,212.0 2120.0,150.0 2123.0,180.1 2125.0,166.9 2127.3,180.4 2130.3,194.0 2133.6,182.2 2136.8,195.8 2138.8,173.1 2141.5,218.4 2143.9,206.4 2146.4,211.7 2148.3,190.2 2151.5,178.4 2153.7,164.3 2155.8,178.0 2158.7,175.2 2161.2,174.2 2163.9,211.3 2166.8,173.9 2169.7,216.8 2172.5,167.3 2175.6,211.9 2177.9,170.5 2180.0,192.9 2183.2,198.6 2186.5,174.7 2188.8,204.7 2191.6,185.4 2194.5,181.6 2196.4,185.9 2198.3,197.8 2200.7,190.4 2204.0,247.0 2206.0,163.4 2209.2,194.2 2212.6,165.7 2215.4,203.1 2217.7,167.8 2219.8,170.5 2222.8,167.6 2225.9,186.2 2228.5,195.4 2231.2,199.3 2234.0,181.0 2236.9,176.9 2239.9,205.2 2242.9,179.7 2245.9,217.1 2248.5,177.9 2251.1,215.0 2253.1,162.8 2255.7,199.0 2258.7,182.6 2262.1,175.0 2265.1,167.3 2266.9,169.8 2268.9,190.3 2272.0,142.0 2274.8,182.7 2276.9,172.1 2279.8,213.8 2281.9,163.8 2285.0,175.7 2288.3,190.0 2291.1,181.4 2294.2,187.8 2296.5,212.6 2298.5,203.1 2300.4,198.2 2303.0,160.0" stroke-width="14.5" stroke-dasharray="0.1 16" stroke-linecap="round"/>
</g>
<g stroke="#e8330c" fill="none" stroke-linecap="butt" stroke-linejoin="round">
<polyline points="316.0,240.5 358.5,240.5" stroke-width="15"/>
<polyline points="402.0,240.5 444.0,240.5" stroke-width="15"/>
<polyline points="489.5,240.5 532.0,240.5" stroke-width="15"/>
<polyline points="547.0,276.0 547.0,335.0" stroke-width="12"/>
<polyline points="548.0,392.0 551.0,447.0" stroke-width="12"/>
<polyline points="552.5,509.0 557.5,561.0" stroke-width="12"/>
<polyline points="573.0,601.0 575.0,656.0" stroke-width="12"/>
<polyline points="592.0,699.0 595.0,750.0" stroke-width="12"/>
<polyline points="598.0,817.0 610.0,829.0 613.0,847.0" stroke-width="12"/>
<polyline points="612.5,911.0 612.5,962.5" stroke-width="12"/>
<polyline points="613.0,1024.0 613.0,1081.5" stroke-width="12"/>
<polyline points="613.5,1141.0 613.5,1197.0" stroke-width="12"/>
<polyline points="615.7,1255.0 658.7,1255.0" stroke-width="15"/>
<polyline points="701.2,1255.0 744.2,1255.0" stroke-width="15"/>
<polyline points="786.7,1255.0 829.7,1255.0" stroke-width="15"/>
<polyline points="872.2,1255.0 915.2,1255.0" stroke-width="15"/>
<polyline points="957.7,1255.0 1000.7,1255.0" stroke-width="15"/>
<polyline points="1043.2,1255.0 1086.2,1255.0" stroke-width="15"/>
<polyline points="1128.7,1255.0 1171.7,1255.0" stroke-width="15"/>
<polyline points="1214.2,1255.0 1257.2,1255.0" stroke-width="15"/>
<polyline points="1299.7,1255.0 1342.7,1255.0" stroke-width="15"/>
<polyline points="1385.2,1255.0 1428.2,1255.0" stroke-width="15"/>
<polyline points="1470.7,1255.0 1513.7,1255.0" stroke-width="15"/>
<polyline points="1556.2,1255.0 1599.2,1255.0" stroke-width="15"/>
<polyline points="1629.5,1232.5 1629.5,1172.0" stroke-width="12"/>
<polyline points="1629.5,1117.0 1629.5,1058.0" stroke-width="12"/>
<polyline points="1629.5,999.0 1629.5,943.5" stroke-width="12"/>
<polyline points="1629.5,881.0 1629.5,825.0" stroke-width="12"/>
<polyline points="1629.5,766.0 1629.5,709.0" stroke-width="12"/>
<polyline points="1631.0,650.0 1631.0,601.0" stroke-width="12"/>
<polyline points="1652.0,551.0 1656.0,530.0 1665.0,520.0" stroke-width="12"/>
<polyline points="1667.0,458.0 1667.0,405.0" stroke-width="12"/>
<polyline points="1674.0,339.0 1674.0,289.0" stroke-width="12"/>
</g>
<g stroke="#d8350b" fill="none" stroke-linecap="butt" stroke-linejoin="round">
<polyline points="1682.0,227.0 1694.0,188.0" stroke-width="12"/>
<polyline points="1750.0,188.5 1788.0,188.5" stroke-width="15"/>
<polyline points="1835.0,188.5 1872.0,188.5" stroke-width="15"/>
<polyline points="1920.0,188.5 1954.0,188.5" stroke-width="15"/>
<polyline points="2005.6,188.5 2041.0,188.5" stroke-width="15"/>
<polyline points="2089.0,188.5 2127.0,188.5" stroke-width="15"/>
<polyline points="2175.6,188.5 2212.0,188.5" stroke-width="15"/>
<polyline points="2260.0,188.5 2300.0,188.5" stroke-width="15"/>
</g>
</g>
<path fill="#000" fill-rule="evenodd" d="M317,127 H2344.5 Q2350.5,127 2350.5,133 V1299 Q2350.5,1310 2339.5,1310 H318 Q311,1310 311,1303 V133 Q311,127 317,127 Z M323,135.6 V1297 H2312 Q2314,1293.5 2318,1293.5 H2336.5 V139 H2308 V135.6 Z"/>
<line x1="577" y1="382.5" x2="741" y2="382.5" stroke="#002060" stroke-width="17.5" stroke-linecap="round"/>
<circle cx="582" cy="461.5" r="8.8" fill="#00b050"/>
<circle cx="637.3" cy="461.5" r="8.8" fill="#00b050"/>
<circle cx="692.6" cy="461.5" r="8.8" fill="#00b050"/>
<circle cx="748" cy="461.5" r="8.8" fill="#00b050"/>
<line x1="584" y1="543" x2="641" y2="543" stroke="#632523" stroke-width="17.5" stroke-linecap="round"/>
<line x1="693" y1="543" x2="752" y2="543" stroke="#632523" stroke-width="17.5" stroke-linecap="round"/>
</g>
<g font-family='"Liberation Serif", "DejaVu Serif", serif' font-weight="bold" fill="#141414" filter="url(#bl)">
<text x="943" y="70" font-size="62" text-anchor="start" textLength="785" lengthAdjust="spacingAndGlyphs" fill="#15151f">Comparison of Gate Voltage</text>
<text x="795" y="399" font-size="55" text-anchor="start" textLength="655" lengthAdjust="spacingAndGlyphs">Experimental Gate Voltage</text>
<text x="795" y="478" font-size="55" text-anchor="start" textLength="715" lengthAdjust="spacingAndGlyphs">Proposed Model Gate Voltage</text>
<text x="795" y="559" font-size="55" text-anchor="start" textLength="826" lengthAdjust="spacingAndGlyphs">Manufacturer Model Gate Voltage</text>
</g>
<g font-family='"Liberation Serif", "DejaVu Serif", serif' font-weight="bold" fill="#1c1c1c" stroke="#1c1c1c" stroke-width="1.3" stroke-linejoin="round">
<text y="1465.5" font-size="62"><tspan x="1193" textLength="145" lengthAdjust="spacingAndGlyphs">Time</tspan> <tspan x="1349.5" textLength="65" lengthAdjust="spacingAndGlyphs">(s)</tspan> <tspan x="1433">×</tspan> <tspan x="1483" textLength="62" lengthAdjust="spacingAndGlyphs">10</tspan><tspan x="1544" dy="-19" font-size="41" textLength="35" lengthAdjust="spacingAndGlyphs">-6</tspan></text>
<text transform="translate(75.3,1090.5) rotate(-90)" font-size="65" textLength="606" lengthAdjust="spacingAndGlyphs">Gate Voltage (Vgs) (V)</text>
</g>
<g font-family='"Liberation Serif", "DejaVu Serif", serif' font-weight="bold" fill="#141414" filter="url(#bl)">
<text x="267" y="167" font-size="60" text-anchor="end">4</text>
<text x="267" y="290" font-size="60" text-anchor="end">3</text>
<text x="267" y="402" font-size="60" text-anchor="end">2</text>
<text x="267" y="543.5" font-size="60" text-anchor="end">1</text>
<text x="267" y="664" font-size="60" text-anchor="end">0</text>
<text x="272" y="806" font-size="60" text-anchor="end">-1</text>
<text x="272" y="927" font-size="60" text-anchor="end">-2</text>
<text x="272" y="1067" font-size="60" text-anchor="end">-3</text>
<text x="272" y="1184" font-size="60" text-anchor="end">-4</text>
<text x="272" y="1304" font-size="60" text-anchor="end">-5</text>
<text x="325" y="1368.5" font-size="62" text-anchor="middle">0</text>
<text x="813" y="1368.5" font-size="62" text-anchor="middle">0.5</text>
<text x="1306" y="1368.5" font-size="62" text-anchor="middle">1</text>
<text x="1800" y="1368.5" font-size="62" text-anchor="middle">1.5</text>
<text x="2305" y="1368" font-size="62" text-anchor="middle">2</text>
</g>
</svg>
</body></html>
